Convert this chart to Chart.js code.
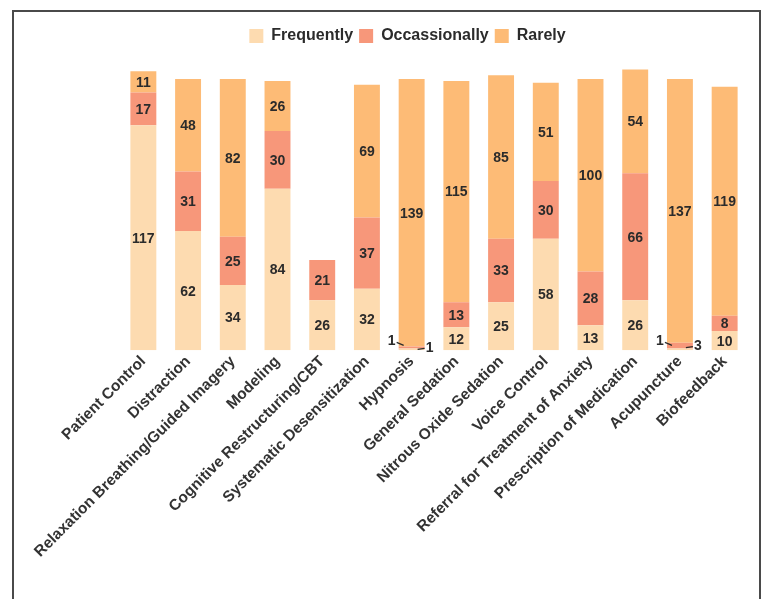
<!DOCTYPE html>
<html>
<head>
<meta charset="utf-8">
<script src="https://cdn.jsdelivr.net/npm/chart.js@4.4.1/dist/chart.umd.min.js"></script>
<style>
  html, body { margin: 0; padding: 0; background: #fff; }
  #wrap { position: relative; width: 768px; height: 599px; overflow: hidden; }
  #frame { position: absolute; left: 12px; top: 10px; width: 745px; height: 620px;
           border: 2px solid #4a4a4a; box-sizing: content-box; }
  canvas { position: absolute; left: 0; top: 0; }
</style>
</head>
<body>
<div id="wrap">
  <div id="frame"></div>
  <canvas id="c" width="768" height="599"></canvas>
</div>
<script>
const categories = [
  "Patient Control", "Distraction", "Relaxation Breathing/Guided Imagery", "Modeling",
  "Cognitive Restructuring/CBT", "Systematic Desensitization", "Hypnosis", "General Sedation",
  "Nitrous Oxide Sedation", "Voice Control", "Referral for Treatment of Anxiety",
  "Prescription of Medication", "Acupuncture", "Biofeedback"
];
const frequently   = [117, 62, 34, 84, 26, 32, 1, 12, 25, 58, 13, 26, 1, 10];
const occasionally = [17, 31, 25, 30, 21, 37, 1, 13, 33, 30, 28, 66, 3, 8];
const rarely       = [11, 48, 82, 26, 0, 69, 139, 115, 85, 51, 100, 54, 137, 119];

const colors = ["#FDDBB0", "#F7977A", "#FDBB76"];
const textColor = "#2b2b2b";
const FONT = "'Liberation Sans', Arial, Helvetica, sans-serif";

const labelPlugin = {
  id: 'barLabels',
  afterDatasetsDraw(chart) {
    const ctx = chart.ctx;
    ctx.save();
    ctx.font = "bold 14px " + FONT;
    ctx.fillStyle = textColor;
    ctx.strokeStyle = textColor;
    ctx.lineWidth = 1.2;
    ctx.textAlign = 'center';
    ctx.textBaseline = 'middle';
    chart.data.datasets.forEach((ds, di) => {
      const meta = chart.getDatasetMeta(di);
      meta.data.forEach((bar, i) => {
        const v = ds.data[i];
        if (!v) return;
        const x = bar.x, yMid = (bar.y + bar.base) / 2;
        const half = bar.width / 2;
        if (v >= 5) {
          ctx.fillText(String(v), x, yMid + 1);
        } else if (di === 0) {
          ctx.beginPath();
          ctx.moveTo(x - half - 2, yMid - 7);
          ctx.lineTo(x - half + 5, yMid - 4);
          ctx.stroke();
          ctx.fillText(String(v), x - half - 7, yMid - 8);
        } else {
          ctx.beginPath();
          ctx.moveTo(x + half - 7, yMid + 2);
          ctx.lineTo(x + half, yMid + 1);
          ctx.stroke();
          ctx.fillText(String(v), x + half + 5, yMid + 1);
        }
      });
    });
    ctx.restore();
  }
};

new Chart(document.getElementById('c'), {
  type: 'bar',
  data: {
    labels: categories,
    datasets: [
      { label: 'Frequently', data: frequently, backgroundColor: colors[0] },
      { label: 'Occassionally', data: occasionally, backgroundColor: colors[1] },
      { label: 'Rarely', data: rarely, backgroundColor: colors[2] }
    ]
  },
  options: {
    responsive: false,
    animation: false,
    devicePixelRatio: 1,
    layout: { padding: { top: 22, left: 68, right: 21, bottom: 36 } },
    datasets: { bar: { categoryPercentage: 1.0, barPercentage: 0.58, borderWidth: 0 } },
    plugins: {
      legend: {
        position: 'top',
        labels: {
          boxWidth: 14, boxHeight: 14, padding: 6,
          color: textColor,
          font: { family: FONT, size: 16, weight: 'bold' }
        }
      },
      tooltip: { enabled: false }
    },
    scales: {
      x: {
        stacked: true,
        grid: { display: false, drawTicks: false },
        border: { display: false },
        ticks: {
          autoSkip: false, minRotation: 45, maxRotation: 45,
          color: "#333",
          padding: 2,
          font: { family: FONT, size: 15.5, weight: 'bold' }
        }
      },
      y: {
        stacked: true, display: true, min: 0, max: 154,
        grid: { display: false },
        border: { display: false },
        ticks: { display: false },
        afterFit(scale) { scale.width = 53; }
      }
    }
  },
  plugins: [labelPlugin]
});
</script>
</body>
</html>
